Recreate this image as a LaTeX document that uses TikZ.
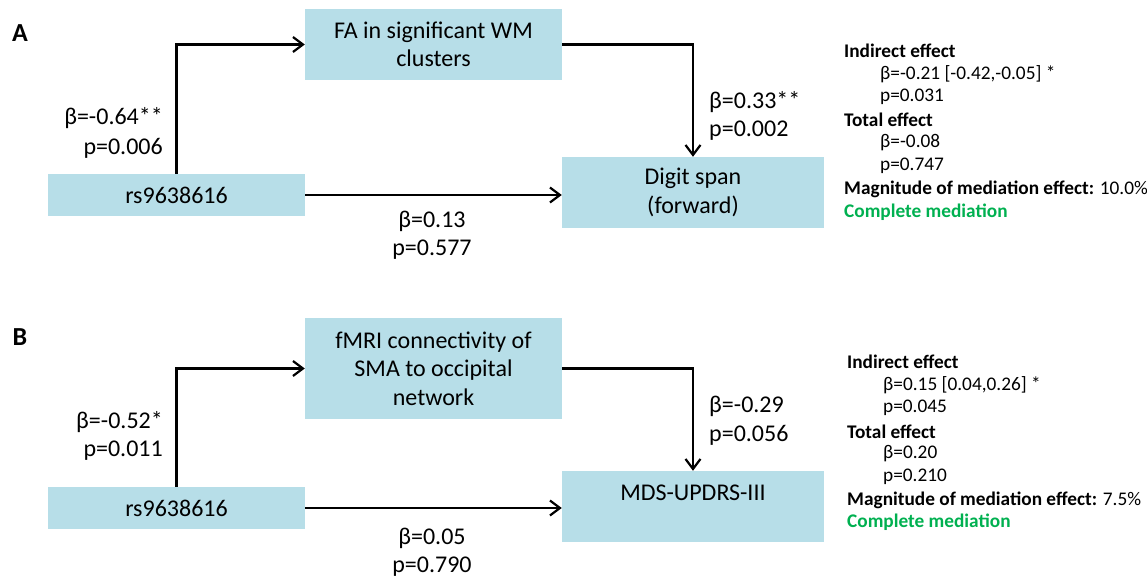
\documentclass[tikz,border=0pt]{standalone}
\usepackage{fontspec}
\setmainfont{Carlito}
\usetikzlibrary{arrows.meta}
\definecolor{boxblue}{HTML}{B7DEE8}
\definecolor{medgreen}{HTML}{00B050}
\begin{document}
\begin{tikzpicture}[x=1pt,y=-1pt,
  boxnode/.style={fill=boxblue, minimum width=257pt, inner sep=0pt, align=center, font=\fontsize{24}{28.5}\selectfont},
  lbl/.style={inner sep=0pt, font=\fontsize{24}{28}\selectfont},
  info/.style={inner sep=0pt, anchor=west, font=\fontsize{19.3}{23}\selectfont},
  panel/.style={inner sep=0pt, font=\fontsize{26}{28}\selectfont\bfseries},
  conn/.style={line width=2.4pt, -{Straight Barb[length=10pt,width=15pt,line width=2.2pt]}}]
\useasboundingbox (0,0) rectangle (1147,580);
% ---------------- Panel A ----------------
\node[panel] (pA) at (20,33) {A};
\node[boxnode, minimum height=71pt] (fa) at (433.5,44.5) {FA in significant WM\\clusters};
\node[boxnode, minimum height=42pt] (rsA) at (176.5,195) {rs9638616};
\node[boxnode, minimum width=262pt, minimum height=71pt] (ds) at (693,192.5) {Digit span\\(forward)};
\draw[conn] (rsA.north) |- (fa.west);
\draw[conn] (rsA.east) -- (rsA.east -| ds.west);
\draw[conn] (fa.east) -| (ds.north);
\node[lbl, anchor=east] (aA1) at (163,118) {β=-0.64**};
\node[lbl, anchor=east] (aA2) at (163,148) {p=0.006};
\node[lbl] (cA1) at (432,221) {β=0.13};
\node[lbl] (cA2) at (432,250) {p=0.577};
\node[lbl, anchor=west] (bA1) at (709,102) {β=0.33**};
\node[lbl, anchor=west] (bA2) at (709,131) {p=0.002};
\node[info] (iA1) at (844,51) {\bfseries Indirect effect};
\node[info] (iA2) at (880,74) {β=-0.21 [-0.42,-0.05] *};
\node[info] (iA3) at (880,97) {p=0.031};
\node[info] (iA4) at (844,120) {\bfseries Total effect};
\node[info] (iA5) at (880,143) {β=-0.08};
\node[info] (iA6) at (880,166) {p=0.747};
\node[info] (iA7) at (844,189) {\textbf{Magnitude of mediation effect:} 10.0\%};
\node[info, text=medgreen] (iA8) at (844,212) {\bfseries Complete mediation};
% ---------------- Panel B ----------------
\node[panel] (pB) at (20,337) {B};
\node[boxnode, minimum height=101pt] (fm) at (433.5,368.5) {fMRI connectivity of\\SMA to occipital\\network};
\node[boxnode, minimum height=42pt] (rsB) at (176.5,508) {rs9638616};
\node[boxnode, minimum width=262pt, minimum height=71pt] (mds) at (693,506.5) {};
\node[lbl] (mdsT) at (693,493) {MDS-UPDRS-III};
\draw[conn] (rsB.north) |- (fm.west);
\draw[conn] (rsB.east) -- (rsB.east -| mds.west);
\draw[conn] (fm.east) -| (mds.north);
\node[lbl, anchor=east] (aB1) at (163,422) {β=-0.52*};
\node[lbl, anchor=east] (aB2) at (163,451) {p=0.011};
\node[lbl] (cB1) at (432,538) {β=0.05};
\node[lbl] (cB2) at (432,567) {p=0.790};
\node[lbl, anchor=west] (bB1) at (709,406) {β=-0.29};
\node[lbl, anchor=west] (bB2) at (709,435) {p=0.056};
\node[info] (iB1) at (847,362) {\bfseries Indirect effect};
\node[info] (iB2) at (883,385) {β=0.15 [0.04,0.26] *};
\node[info] (iB3) at (883,408) {p=0.045};
\node[info] (iB4) at (847,432) {\bfseries Total effect};
\node[info] (iB5) at (883,454) {β=0.20};
\node[info] (iB6) at (883,477) {p=0.210};
\node[info] (iB7) at (847,500) {\textbf{Magnitude of mediation effect:} 7.5\%};
\node[info, text=medgreen] (iB8) at (847,522) {\bfseries Complete mediation};
\end{tikzpicture}
\end{document}
